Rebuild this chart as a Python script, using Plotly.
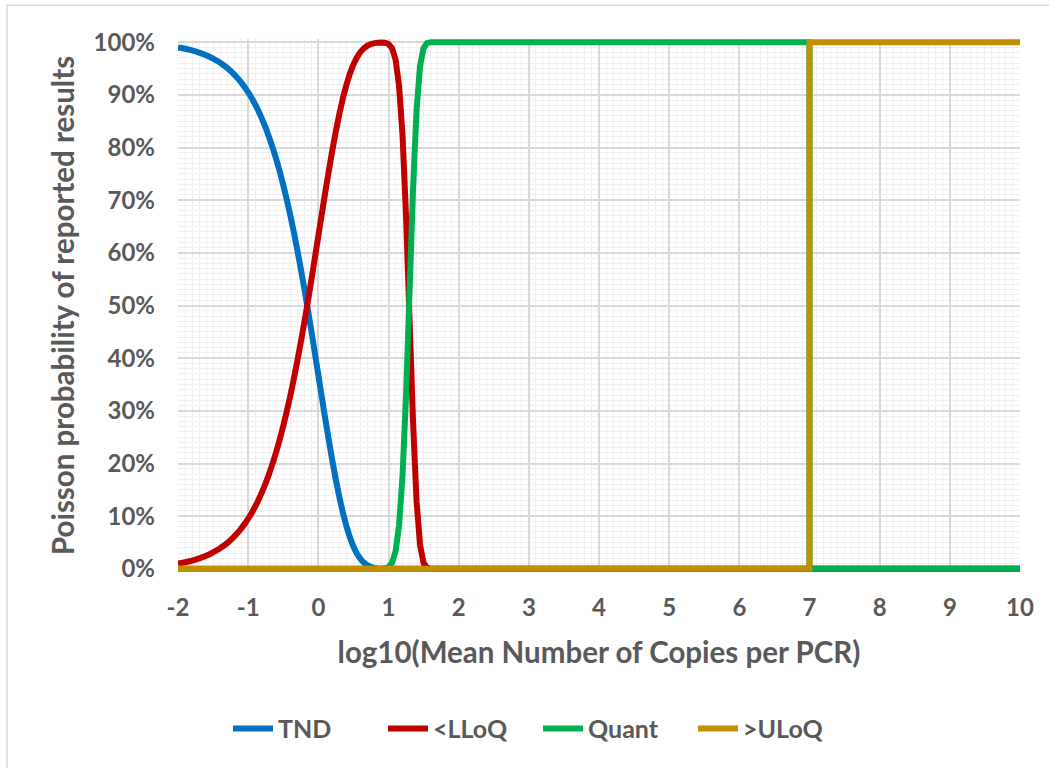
import plotly.graph_objects as go

# x = log10(mean copies per PCR)
x_vals = [-2.0, -1.95, -1.9, -1.85, -1.8, -1.75, -1.7, -1.65, -1.6, -1.55, -1.5,
          -1.45, -1.4, -1.35, -1.3, -1.25, -1.2, -1.15, -1.1, -1.05, -1.0,
          -0.95, -0.9, -0.85, -0.8, -0.75, -0.7, -0.65, -0.6, -0.55, -0.5,
          -0.45, -0.4, -0.35, -0.3, -0.25, -0.2, -0.15, -0.1, -0.05, 0.0,
          0.05, 0.1, 0.15, 0.2, 0.25, 0.3, 0.35, 0.4, 0.45, 0.5,
          0.55, 0.6, 0.65, 0.7, 0.75, 0.8, 0.85, 0.9, 0.95, 1.0,
          1.05, 1.1, 1.15, 1.2, 1.25, 1.3, 1.35, 1.4, 1.45, 1.5,
          1.55, 1.6, 1.7, 2.0, 3.0, 4.0, 5.0, 6.0, 7.0, 7.0, 8.0, 9.0, 10.0]

tnd = [0.9900, 0.9888, 0.9875, 0.9860, 0.9843, 0.9824, 0.9802, 0.9779, 0.9752, 0.9722, 0.9689,
       0.9651, 0.9610, 0.9563, 0.9511, 0.9453, 0.9389, 0.9317, 0.9236, 0.9147, 0.9048,
       0.8939, 0.8817, 0.8683, 0.8534, 0.8371, 0.8191, 0.7994, 0.7779, 0.7544, 0.7289,
       0.7013, 0.6716, 0.6398, 0.6058, 0.5699, 0.5321, 0.4927, 0.4519, 0.4101, 0.3679,
       0.3256, 0.2839, 0.2435, 0.2050, 0.1689, 0.1360, 0.1066, 0.0811, 0.0597, 0.0423,
       0.0288, 0.0187, 0.0115, 0.0067, 0.0036, 0.0018, 0.0008, 0.0004, 0.0001, 0.0,
       0.0, 0.0, 0.0, 0.0, 0.0, 0.0, 0.0, 0.0, 0.0, 0.0,
       0.0, 0.0, 0.0, 0.0, 0.0, 0.0, 0.0, 0.0, 0.0, 0.0, 0.0, 0.0, 0.0]

lloq = [0.0100, 0.0112, 0.0125, 0.0140, 0.0157, 0.0176, 0.0198, 0.0221, 0.0248, 0.0278, 0.0311,
        0.0349, 0.0390, 0.0437, 0.0489, 0.0547, 0.0611, 0.0683, 0.0764, 0.0853, 0.0952,
        0.1061, 0.1183, 0.1317, 0.1466, 0.1629, 0.1809, 0.2006, 0.2221, 0.2456, 0.2711,
        0.2987, 0.3284, 0.3602, 0.3942, 0.4301, 0.4679, 0.5073, 0.5481, 0.5899, 0.6321,
        0.6744, 0.7161, 0.7565, 0.7950, 0.8311, 0.8640, 0.8934, 0.9189, 0.9403, 0.9577,
        0.9712, 0.9813, 0.9885, 0.9933, 0.9964, 0.9982, 0.9991, 0.9994, 0.9989, 0.9964,
        0.9886, 0.9674, 0.9183, 0.823, 0.670, 0.4745, 0.278, 0.1284, 0.0447, 0.0111,
        0.0019, 0.0002, 0.0, 0.0, 0.0, 0.0, 0.0, 0.0, 0.0, 0.0, 0.0, 0.0, 0.0]

quant = [0.0, 0.0, 0.0, 0.0, 0.0, 0.0, 0.0, 0.0, 0.0, 0.0, 0.0,
         0.0, 0.0, 0.0, 0.0, 0.0, 0.0, 0.0, 0.0, 0.0, 0.0,
         0.0, 0.0, 0.0, 0.0, 0.0, 0.0, 0.0, 0.0, 0.0, 0.0,
         0.0, 0.0, 0.0, 0.0, 0.0, 0.0, 0.0, 0.0, 0.0, 0.0,
         0.0, 0.0, 0.0, 0.0, 0.0, 0.0, 0.0, 0.0, 0.0, 0.0,
         0.0, 0.0, 0.0, 0.0, 0.0, 0.0, 0.0001, 0.0003, 0.0010, 0.0035,
         0.0114, 0.0326, 0.0817, 0.177, 0.330, 0.5255, 0.722, 0.8716, 0.9553, 0.9889,
         0.9981, 0.9998, 1.0, 1.0, 1.0, 1.0, 1.0, 1.0, 1.0, 0.0, 0.0, 0.0, 0.0]

uloq = [0.0] * 80 + [1.0, 1.0, 1.0, 1.0]

series_names = ["TND", "<LLoQ", "Quant", ">ULoQ"]
series_values = [tnd, lloq, quant, uloq]
series_colors = ["#0070C0", "#C00000", "#00B050", "#BF9000"]

x_ticks = list(range(-2, 11))
y_ticks = [i / 10 for i in range(11)]

FONT = "Lato"
GRAY = "#595959"

fig = go.Figure()
for name, vals, col in zip(series_names, series_values, series_colors):
    fig.add_trace(go.Scatter(
        x=x_vals, y=vals, name=name, mode="lines",
        line=dict(color=col, width=6, simplify=False),
        cliponaxis=False,
    ))

W, H = 1049, 768
# pixel positions of 0% / 100% and x=-2 / x=10
PX_L, PX_R, PX_TOP, PX_BOT = 178, 1020, 42, 569
PAD = 0.006  # small y padding so lines at 0% and 100% are not clipped
unit = PX_BOT - PX_TOP
T = PX_TOP - PAD * unit
B = H - (PX_BOT + PAD * unit)
L, R = PX_L, W - PX_R
pw, ph = W - L - R, H - T - B

fig.update_layout(
    width=W, height=H,
    margin=dict(l=L, r=R, t=T, b=B),
    paper_bgcolor="white", plot_bgcolor="white",
    font=dict(family=FONT, color=GRAY, size=24, weight="bold"),
    showlegend=True,
    legend=dict(
        orientation="h", xref="container", yref="container",
        x=228 / W, xanchor="left", y=0.051, yanchor="middle",
        font=dict(family=FONT, size=25, color=GRAY, weight="bold"),
        entrywidth=100, entrywidthmode="pixels",
        itemwidth=40, tracegroupgap=0,
    ),
    xaxis=dict(
        range=[-2, 10], tickvals=x_ticks, ticktext=[str(v) for v in x_ticks],
        showgrid=True, gridcolor="#D9D9D9", gridwidth=1.5,
        minor=dict(dtick=0.1, showgrid=True, gridcolor="#F0F0F0", gridwidth=1),
        zeroline=False, showline=False, ticks="",
        ticklabelstandoff=19,
        tickfont=dict(family=FONT, size=24, color=GRAY, weight="bold"),
        title=dict(text="log10(Mean Number of Copies per PCR)", standoff=22,
                   font=dict(family=FONT, size=29.5, color=GRAY, weight="bold")),
    ),
    yaxis=dict(
        range=[-PAD, 1 + PAD], tickvals=y_ticks, tickformat=".0%",
        showgrid=True, gridcolor="#D9D9D9", gridwidth=1.5,
        minor=dict(dtick=0.01, showgrid=True, gridcolor="#F0F0F0", gridwidth=1),
        zeroline=False, showline=False, ticks="",
        ticklabelstandoff=22,
        tickfont=dict(family=FONT, size=24, color=GRAY, weight="bold"),
        title=dict(text="Poisson probability of reported results", standoff=10,
                   font=dict(family=FONT, size=29.5, color=GRAY, weight="bold")),
    ),
)

# chart-area border (partially outside the viewport like the reference)
fig.add_shape(
    type="rect", xref="paper", yref="paper",
    x0=(7 - L) / pw, x1=(W + 5 - L) / pw,
    y0=-(B + 5) / ph, y1=1 + (T - 5) / ph,
    line=dict(color="#D9D9D9", width=1.5), fillcolor="rgba(0,0,0,0)",
    layer="below",
)

fig.write_html("out.html", config={"displayModeBar": False},
               post_script="document.body.style.margin='0px';")
